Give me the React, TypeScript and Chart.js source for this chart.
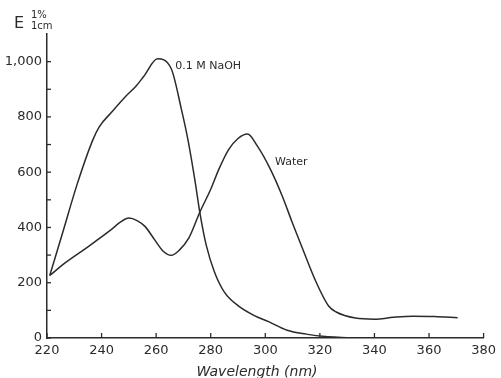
import React, { useEffect, useRef } from "react";
import { Chart, registerables } from "chart.js";

Chart.register(...registerables);

const naohWavelengths = [221, 226, 231, 236.8, 239.2, 243.4, 248.8, 252.5, 255.5, 260.5, 265.5, 269.2, 271.8, 274.3, 276, 278.4, 281.4, 285, 290, 296, 301, 308, 315, 322, 328, 335];
const naohValues = [226, 390, 555, 717, 765, 814, 874, 910, 947, 1010, 975, 830, 710, 565, 455, 334, 238, 166, 117, 81, 60, 28, 14, 5, 2, 0];

const waterWavelengths = [221, 226.5, 235, 243.4, 247, 250, 253, 256, 259, 262.7, 265.5, 268.5, 272, 276, 280, 283, 286.5, 290, 293.5, 297, 301.8, 306.2, 309.8, 314.1, 318.1, 323.2, 326, 333, 340, 347, 354, 362, 370.5];
const waterValues = [226, 271, 330, 391, 420, 434, 425, 403, 362, 313, 299, 318, 362, 455, 538, 611, 681, 722, 738, 696, 612, 514, 420, 312, 214, 116, 94, 72, 68, 75, 79, 78, 73];

const xTicks = [220, 240, 260, 280, 300, 320, 340, 360, 380];
const yMajorTicks = [0, 200, 400, 600, 800, 1000];
const yMinorTicks = [100, 300, 500, 700, 900];

const seriesLabels = ["0.1 M NaOH", "Water"];
const labelPositions = [
  { x: 267, y: 985 },
  { x: 303.6, y: 638 },
];

const INK = "#2b2b2b";
const FONT = "'DejaVu Sans', sans-serif";

export default function App() {
  const ref = useRef<HTMLCanvasElement | null>(null);

  useEffect(() => {
    document.body.style.margin = "0";
    const canvas = ref.current;
    if (!canvas) return;

    const decor = {
      id: "decor",
      afterDraw(chart: any) {
        const ctx = chart.ctx;
        const xs = chart.scales.x;
        const ys = chart.scales.y;
        const area = chart.chartArea;
        ctx.save();
        ctx.strokeStyle = INK;
        ctx.lineWidth = 1.3;
        xTicks.forEach((v) => {
          const px = xs.getPixelForValue(v);
          ctx.beginPath();
          ctx.moveTo(px, area.bottom);
          ctx.lineTo(px, area.bottom - 5);
          ctx.stroke();
        });
        [...yMajorTicks, ...yMinorTicks].forEach((v) => {
          const py = ys.getPixelForValue(v);
          ctx.beginPath();
          ctx.moveTo(area.left, py);
          ctx.lineTo(area.left + 4, py);
          ctx.stroke();
        });
        ctx.fillStyle = INK;
        ctx.font = `11px ${FONT}`;
        ctx.textBaseline = "middle";
        ctx.textAlign = "left";
        seriesLabels.forEach((t, i) => {
          ctx.fillText(t, xs.getPixelForValue(labelPositions[i].x), ys.getPixelForValue(labelPositions[i].y));
        });
        ctx.font = `italic 14px ${FONT}`;
        ctx.textAlign = "center";
        ctx.textBaseline = "alphabetic";
        ctx.fillText("Wavelength (nm)", 257, 376);
        ctx.textAlign = "left";
        ctx.font = `16px ${FONT}`;
        ctx.fillText("E", 14, 28);
        ctx.font = `10px ${FONT}`;
        ctx.fillText("1%", 31, 18);
        ctx.fillText("1cm", 31, 29);
        ctx.restore();
      },
    };

    const chart = new Chart(canvas, {
      type: "line",
      data: {
        datasets: [
          {
            label: seriesLabels[0],
            data: naohWavelengths.map((x, i) => ({ x, y: naohValues[i] })),
            borderColor: INK,
            borderWidth: 1.5,
            pointRadius: 0,
            cubicInterpolationMode: "monotone",
            fill: false,
          },
          {
            label: seriesLabels[1],
            data: waterWavelengths.map((x, i) => ({ x, y: waterValues[i] })),
            borderColor: INK,
            borderWidth: 1.5,
            pointRadius: 0,
            cubicInterpolationMode: "monotone",
            fill: false,
          },
        ],
      },
      options: {
        animation: false,
        responsive: false,
        layout: { padding: { top: 34, right: 11, left: 0, bottom: 0 } },
        plugins: { legend: { display: false }, tooltip: { enabled: false } },
        scales: {
          x: {
            type: "linear",
            min: 220,
            max: 380,
            afterFit: (s: any) => { s.height = 40; },
            afterBuildTicks: (s: any) => { s.ticks = xTicks.map((v) => ({ value: v })); },
            grid: { drawOnChartArea: false, drawTicks: false },
            border: { display: true, color: INK, width: 1.5 },
            ticks: { color: INK, font: { family: FONT, size: 13 }, padding: 5, maxRotation: 0 },
          },
          y: {
            type: "linear",
            min: 0,
            max: 1100,
            afterFit: (s: any) => { s.width = 47; },
            afterBuildTicks: (s: any) => { s.ticks = yMajorTicks.map((v) => ({ value: v })); },
            grid: { drawOnChartArea: false, drawTicks: false },
            border: { display: true, color: INK, width: 1.5 },
            ticks: {
              color: INK,
              font: { family: FONT, size: 13 },
              padding: 5,
              callback: (v: any) => (v === 1000 ? "1,000" : String(v)),
            },
          },
        },
      },
      plugins: [decor],
    });
    return () => chart.destroy();
  }, []);

  return (
    <div style={{ width: 501, height: 378, background: "#fff" }}>
      <canvas ref={ref} width={501} height={378} />
    </div>
  );
}
